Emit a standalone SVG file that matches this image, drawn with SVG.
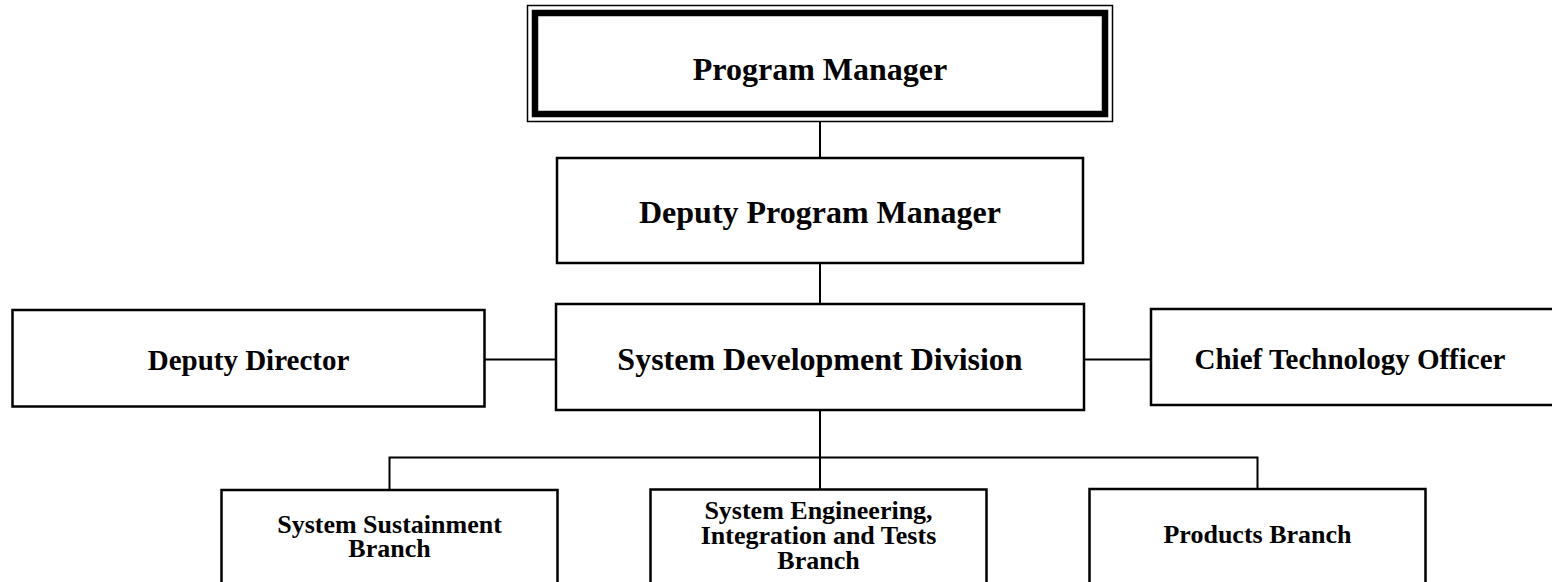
<svg xmlns="http://www.w3.org/2000/svg" width="1552" height="582" viewBox="0 0 1552 582">
<style>
.box{fill:#fff;stroke:#000;stroke-width:2.5}
.conn{stroke:#000;stroke-width:2;fill:none}
text{font-family:"Liberation Serif","Times New Roman",serif;font-weight:bold;fill:#000;text-anchor:middle}
.t32{font-size:32px}
.t29{font-size:29px}
.t26{font-size:26px}
</style>
<rect width="1552" height="582" fill="#fff"/>
<g id="connectors">
<line class="conn" x1="820" y1="121" x2="820" y2="158"/>
<line class="conn" x1="820" y1="263" x2="820" y2="304"/>
<line class="conn" x1="484" y1="359.5" x2="556" y2="359.5"/>
<line class="conn" x1="1084" y1="359.5" x2="1151" y2="359.5"/>
<line class="conn" x1="820" y1="410" x2="820" y2="489"/>
<polyline class="conn" points="389.5,490 389.5,457.5 1257.5,457.5 1257.5,489"/>
</g>
<g id="program-manager">
<rect x="527.5" y="5.5" width="585" height="116" fill="#fff" stroke="#000" stroke-width="1.5"/>
<rect x="535" y="13" width="570" height="101" fill="none" stroke="#000" stroke-width="6.5"/>
<text class="t32" x="820" y="80">Program Manager</text>
</g>
<g id="deputy-program-manager">
<rect class="box" x="557" y="158" width="526" height="105"/>
<text class="t32" x="820" y="223">Deputy Program Manager</text>
</g>
<g id="system-development-division">
<rect class="box" x="556" y="304" width="528" height="106"/>
<text class="t32" x="820" y="370">System Development Division</text>
</g>
<g id="deputy-director">
<rect class="box" x="12.5" y="310" width="472" height="96.5"/>
<text class="t29" x="248.5" y="369.5">Deputy Director</text>
</g>
<g id="chief-technology-officer">
<rect class="box" x="1151" y="309" width="406" height="96"/>
<text class="t29" x="1350" y="368.5">Chief Technology Officer</text>
</g>
<g id="system-sustainment-branch">
<rect class="box" x="221.5" y="490" width="336" height="110"/>
<text class="t26" x="389.5" y="532.5">System Sustainment</text>
<text class="t26" x="389.5" y="556.5">Branch</text>
</g>
<g id="system-engineering-branch">
<rect class="box" x="650.5" y="489.5" width="336" height="110"/>
<text class="t26" x="818.5" y="518.5">System Engineering,</text>
<text class="t26" x="818.5" y="543.5">Integration and Tests</text>
<text class="t26" x="818.5" y="568.5">Branch</text>
</g>
<g id="products-branch">
<rect class="box" x="1089.5" y="489" width="336" height="110"/>
<text class="t26" x="1257.5" y="542.5">Products Branch</text>
</g>
</svg>
